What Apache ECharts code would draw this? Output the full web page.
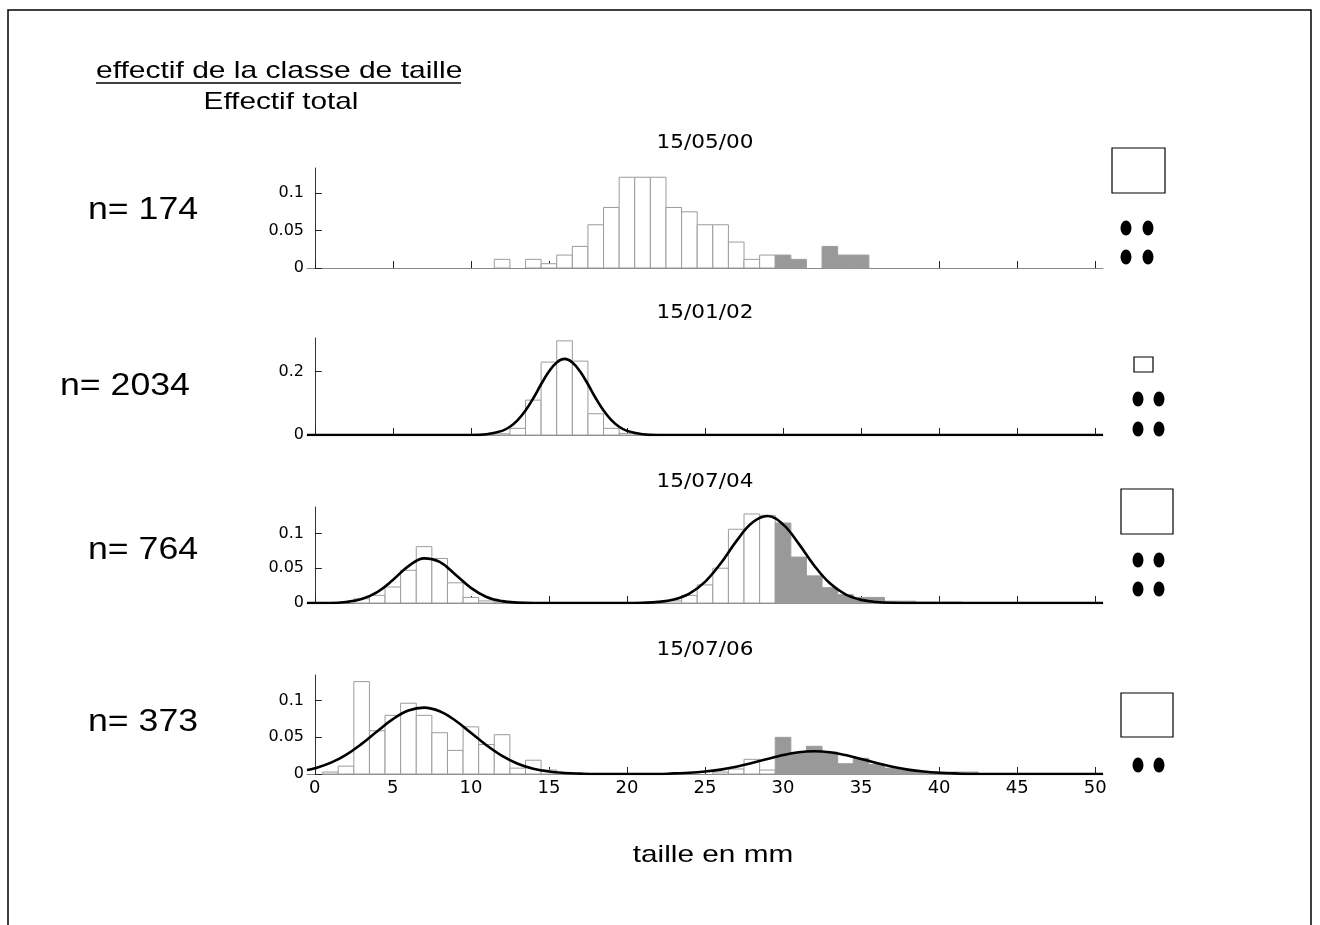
<!DOCTYPE html>
<html>
<head>
<meta charset="utf-8">
<script src="https://cdn.jsdelivr.net/npm/echarts@6.0.0/dist/echarts.min.js"></script>
<style>
  html, body { margin: 0; padding: 0; background: #fff; }
  #main { width: 1320px; height: 925px; }
</style>
</head>
<body>
<div id="main"></div>
<script>
// proportion of each 1 mm size class (index = class centre in mm)
var p1 = [0,0,0,0,0,0,0,0,0,0, 0,0,0.0115,0,0.0115,0.0057,0.0172,0.0287,0.0575,0.0805,
          0.1207,0.1207,0.1207,0.0805,0.0747,0.0575,0.0575,0.0345,0.0115,0.0172,
          0.0172,0.0115,0,0.0287,0.0172,0.0172];
var p2 = [0,0,0,0,0,0,0,0,0,0, 0,0.001,0.004,0.021,0.110,0.230,0.297,0.233,0.067,0.021,
          0.005,0.001];
var p3 = [0,0,0,0.006,0.011,0.023,0.047,0.081,0.064,0.029, 0.008,0.003,0.0013,0,0,0,0,0,0,0,
          0,0,0.0013,0.003,0.011,0.026,0.050,0.106,0.128,0.126,
          0.115,0.066,0.039,0.022,0.012,0.008,0.008,0.0026,0.0026,0.0013, 0.0013,0.0013];
var p4 = [0,0.0027,0.0107,0.126,0.059,0.080,0.0965,0.080,0.0563,0.0322,
          0.0643,0.0402,0.0536,0.008,0.0188,0.0054,0,0,0,0, 0,0,0,0,0,0,0.0027,0.0068,0.020,0.0054,
          0.050,0.028,0.0378,0.030,0.014,0.0214,0.013,0.008,0.0054,0.0027, 0.0027,0.0027,0.0027];

// fitted curves [taille, proportion]
var c2 = [[-0.5,0],[10,0],[11,0.0026],[12,0.013],[12.5,0.026],[13,0.047],[13.5,0.077],[14,0.116],
          [14.5,0.16],[15,0.2],[15.5,0.229],[16,0.24],[16.5,0.229],[17,0.2],[17.5,0.16],[18,0.116],
          [18.5,0.077],[19,0.047],[19.5,0.026],[20,0.013],[21,0.0026],[22,0],[50.5,0]];
var c3 = [[-0.5,0],[1,0],[2,0.0015],[3,0.0056],[4,0.0157],[5,0.033],[6,0.053],[7,0.0642],[8,0.059],
          [9,0.041],[10,0.0218],[11,0.0087],[12,0.0027],[13,0.0006],[14,0],[20,0],[21,0.0004],
          [22,0.0016],[23,0.0051],[24,0.0136],[25,0.0304],[26,0.0568],[27,0.0886],[28,0.115],
          [29,0.125],[30,0.113],[31,0.0854],[32,0.0538],[33,0.0283],[34,0.0124],[35,0.0045],
          [36,0.0014],[37,0.0003],[38,0],[50.5,0]];
var c4 = [[-0.5,0.0054],[0,0.0078],[1,0.0151],[2,0.0262],[3,0.0411],[4,0.0583],[5,0.0748],[6,0.0865],
          [7,0.0905],[8,0.0855],[9,0.073],[10,0.0563],[11,0.0392],[12,0.0247],[13,0.014],[14,0.0072],
          [15,0.0033],[16,0.0014],[17,0.0005],[18,0],[22,0],[23,0.0008],[24,0.0016],[25,0.0033],
          [26,0.006],[27,0.0099],[28,0.0149],[29,0.0205],[30,0.0258],[31,0.0296],[32,0.031],
          [33,0.0296],[34,0.0258],[35,0.0205],[36,0.0149],[37,0.0099],[38,0.006],[39,0.0033],
          [40,0.0016],[41,0.0008],[42,0],[50.5,0]];

var dates = ['15/05/00', '15/01/02', '15/07/04', '15/07/06'];
var effectifs = ['n= 174', 'n= 2034', 'n= 764', 'n= 373'];
var xTicks = [0, 5, 10, 15, 20, 25, 30, 35, 40, 45, 50];
var yTicks = [[0, 0.05, 0.1], [0, 0.2], [0, 0.05, 0.1], [0, 0.05, 0.1]];
var shadedFrom = 30; // classes >= 30 mm drawn grey

var hist = [p1, p2, p3, p4];
var curves = [null, c2, c3, c4];

// layout
var grids = [
    {top: 168, height: 100, yMax: 0.133},
    {top: 338, height: 97, yMax: 0.306},
    {top: 507, height: 96, yMax: 0.138},
    {top: 675, height: 99, yMax: 0.135}
];

var myChart = echarts.init(document.getElementById('main'));

function renderBar(params, api) {
    var x = api.value(0), h = api.value(1);
    if (!h) return;
    var a = api.coord([x - 0.5, h]);
    var b = api.coord([x + 0.5, 0]);
    return {
        type: 'rect',
        shape: {x: a[0], y: a[1], width: b[0] - a[0], height: b[1] - a[1]},
        style: {fill: x >= shadedFrom ? '#999999' : '#ffffff', stroke: '#9c9c9c', lineWidth: 1}
    };
}

var option = {
    animation: false,
    backgroundColor: '#fff',
    grid: [], xAxis: [], yAxis: [], series: [], graphic: []
};

grids.forEach(function (g, i) {
    option.grid.push({left: 307, width: 796, top: g.top, height: g.height});
    option.xAxis.push({
        type: 'value', gridIndex: i, min: -0.5, max: 50.5,
        splitLine: {show: false},
        axisLine: {lineStyle: {color: '#888', width: 1}},
        axisTick: {inside: true, length: 7, customValues: xTicks, lineStyle: {color: '#222'}},
        axisLabel: {show: i === 3, customValues: xTicks, color: '#000', fontSize: 18,
                    fontFamily: 'DejaVu Sans', margin: 5}
    });
    option.yAxis.push({
        type: 'value', gridIndex: i, min: 0, max: g.yMax,
        splitLine: {show: false},
        axisLine: {show: true, lineStyle: {color: '#333', width: 1}},
        axisTick: {show: true, inside: true, length: 7, customValues: yTicks[i], lineStyle: {color: '#222'}},
        axisLabel: {customValues: yTicks[i], color: '#000', fontSize: 16, fontFamily: 'DejaVu Sans', margin: 3}
    });
    option.series.push({
        type: 'custom', xAxisIndex: i, yAxisIndex: i,
        renderItem: renderBar,
        encode: {x: 0, y: 1},
        data: hist[i].map(function (v, k) { return [k, v]; }),
        z: 2
    });
    if (curves[i]) {
        option.series.push({
            type: 'line', xAxisIndex: i, yAxisIndex: i,
            data: curves[i], smooth: 0.4, showSymbol: false,
            lineStyle: {color: '#000', width: 2.6},
            z: 3
        });
    }
    option.graphic.push({
        type: 'text', x: 705, y: g.top - 25, scaleX: 1.08,
        style: {text: dates[i], fill: '#000', font: '20px "DejaVu Sans"', textAlign: 'center', textVerticalAlign: 'middle'}
    });
});

// n= labels
var nPos = [[88, 210], [60, 386], [88, 550], [88, 722]];
effectifs.forEach(function (t, i) {
    option.graphic.push({
        type: 'text', x: nPos[i][0], y: nPos[i][1], scaleX: 1.15,
        style: {text: t, fill: '#000', font: '31px "Liberation Sans"', textVerticalAlign: 'middle'}
    });
});

// right-hand symbols
var boxes = [[1112, 148, 53, 45], [1134, 357, 19, 15], [1121, 489, 52, 45], [1121, 693, 52, 44]];
var dots = [
    [[1126, 228], [1148, 228], [1126, 257], [1148, 257]],
    [[1138, 399], [1159, 399], [1138, 429], [1159, 429]],
    [[1138, 560], [1159, 560], [1138, 589], [1159, 589]],
    [[1138, 765], [1159, 765]]
];
boxes.forEach(function (b) {
    option.graphic.push({type: 'rect', shape: {x: b[0], y: b[1], width: b[2], height: b[3]},
        style: {fill: '#fff', stroke: '#000', lineWidth: 1.2}});
});
dots.forEach(function (row) {
    row.forEach(function (d) {
        option.graphic.push({type: 'circle', x: d[0], y: d[1], scaleY: 1.35,
            shape: {cx: 0, cy: 0, r: 5.5}, style: {fill: '#000'}});
    });
});

option.graphic.push(
    {type: 'rect', shape: {x: 8, y: 10, width: 1303, height: 940}, style: {fill: 'none', stroke: '#000', lineWidth: 1.5}},
    {type: 'text', x: 96, y: 71, scaleX: 1.25, style: {text: 'effectif de la classe de taille', fill: '#000',
        font: '24px "Liberation Sans"', textVerticalAlign: 'middle'}},
    {type: 'line', shape: {x1: 96, y1: 83, x2: 461, y2: 83}, style: {stroke: '#000', lineWidth: 1.5}},
    {type: 'text', x: 281, y: 102, scaleX: 1.24, style: {text: 'Effectif total', fill: '#000',
        font: '24px "Liberation Sans"', textAlign: 'center', textVerticalAlign: 'middle'}},
    {type: 'text', x: 713, y: 855, scaleX: 1.24, style: {text: 'taille en mm', fill: '#000',
        font: '24px "Liberation Sans"', textAlign: 'center', textVerticalAlign: 'middle'}}
);

myChart.setOption(option);
</script>
</body>
</html>
